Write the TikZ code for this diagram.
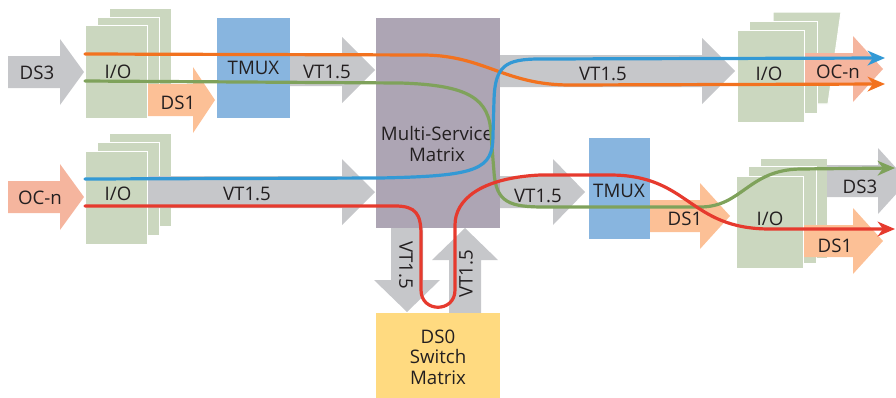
\documentclass[tikz,border=0pt]{standalone}
\usepackage{fontspec}
\setmainfont{Open Sans}
\usetikzlibrary{arrows.meta}
\usetikzlibrary{fit}
\usetikzlibrary{positioning}

\definecolor{flowgray}{HTML}{C6C7CA}
\definecolor{dsorange}{HTML}{FCC096}
\definecolor{ocpink}{HTML}{F5B59E}
\definecolor{iogreen}{HTML}{CBD7BF}
\definecolor{tmuxblue}{HTML}{88B5DF}
\definecolor{msmgray}{HTML}{ADA5B4}
\definecolor{dsoyellow}{HTML}{FFDA80}
\definecolor{inkgray}{HTML}{231F20}
\definecolor{lineorange}{HTML}{F2721F}
\definecolor{linegreen}{HTML}{7FA25B}
\definecolor{lineblue}{HTML}{3399D5}
\definecolor{linered}{HTML}{E63A2E}

\tikzset{
    % Used for creating an exact fit to an existing list of objects
    tight fit/.style={fit={#1}, inner sep=0, line width=0},
%
    % Stacked interface cards, separated by a thin white edge
    io card/.style={fill=iogreen, draw=white, line width=0.8pt},
%
    % Plain coloured blocks
    tmux block/.style={fill=tmuxblue},
    matrix block/.style={fill=msmgray},
    dso block/.style={fill=dsoyellow},
%
    % All the text in the picture
    tag/.style={font=\fontsize{14}{15.5}\selectfont, text=inkgray,
        inner sep=0pt, align=center},
%
    % Thick signal paths, drawn over everything else
    signal/.style={line width=2.4pt, line cap=round,
        -{Stealth[length=13pt, width=11pt, inset=4pt]}}}

% Fat block arrow: options, start x, centre y, body length, head length
\newcommand{\flowarrow}[5][]{%
    \fill[#1] (#2,#3) ++(0,16) -- ++(#4,0) -- ++(0,17) -- ++(#5,-33)
        -- ++(-#5,-33) -- ++(0,17) -- ++(-#4,0) -- cycle;}

\begin{document}
\begin{tikzpicture}[x=0.75pt, y=-0.75pt]

\clip (0,0) rectangle (896,397);

% cards behind the front ones
\node [io card, tight fit={(109,8) (171,101)}] (io tl back) {};
\node [io card, tight fit={(97,17) (159,110)}] (io tl mid) {};
\node [io card, tight fit={(109,133) (171,226)}] (io bl back) {};
\node [io card, tight fit={(97,142) (159,235)}] (io bl mid) {};
\fill [iogreen, draw=white, line width=0.8pt]
    (773,12) -- (841,12) -- (828,104) -- (773,104) -- cycle;
\node [io card, tight fit={(749,21) (817,113)}] (io tr mid) {};
\node [io card, tight fit={(760,158) (827,258)}] (io br back) {};
\node [io card, tight fit={(748,166) (816,263)}] (io br mid) {};

% block arrows
\flowarrow[fill=flowgray]{8}{72}{52}{24}
\flowarrow[fill=dsorange]{140}{100}{53}{22}
\flowarrow[fill=flowgray]{290}{70}{52}{33}
\flowarrow[fill=flowgray]{500}{71}{202}{33}
\flowarrow[fill=ocpink]{798}{69}{55}{30}
\flowarrow[fill=ocpink]{8}{197}{52}{24}
\flowarrow[fill=flowgray]{140}{192}{202}{33}
\flowarrow[fill=flowgray]{500}{192}{53}{32}
\flowarrow[fill=dsorange]{650}{216}{50}{30}
\flowarrow[fill=flowgray]{827}{181}{51}{30}
\flowarrow[fill=dsorange]{798}{241}{55}{30}
\begin{scope}[shift={(407,228)}, rotate=-90]
    \flowarrow[fill=flowgray]{0}{0}{52}{32}
\end{scope}
\begin{scope}[shift={(465,313)}, rotate=90]
    \flowarrow[fill=flowgray]{0}{0}{53}{32}
\end{scope}

% front cards
\node [io card, tight fit={(85,25) (147,118)}] (io tl) {};
\node [io card, tight fit={(85,151) (147,244)}] (io bl) {};
\node [io card, tight fit={(737,30) (804,122)}] (io tr) {};
\node [io card, tight fit={(736,176) (803,268)}] (io br) {};
\node [tag] (io tl text) at (118,72) {I/O};
\node [tag] (io bl text) at (118,194) {I/O};
\node [tag] (io tr text) at (769,74) {I/O};
\node [tag] (io br text) at (770,219) {I/O};

% blocks
\node [tmux block, tight fit={(217,18) (290,118)}] (tmux a) {};
\node [tmux block, tight fit={(589,138) (650,239)}] (tmux b) {};
\node [tag] (tmux a text) at (tmux a.center) {TMUX};
\node [tag] (tmux b text) at (619,191) {TMUX};
\node [matrix block, tight fit={(376,18) (500,228)}] (msm) {};
\node [tag] (msm text) at (437,144) {Multi-Service\\Matrix};
\node [dso block, tight fit={(376,313) (500,400)}] (dso) {};
\node [tag] (dso text) at (438,357) {DS0\\Switch\\Matrix};

% arrow labels
\node [tag] (ds3 in) at (37,73) {DS3};
\node [tag] (ds1 tl) at (178,103) {DS1};
\node [tag] (vt top) at (327,72) {VT1.5};
\node [tag] (vt tr) at (603,74) {VT1.5};
\node [tag] (ocn tr) at (838,72) {OC-n};
\node [tag] (ocn in) at (40,198) {OC-n};
\node [tag] (vt bl) at (247,194) {VT1.5};
\node [tag] (vt mr) at (538,196) {VT1.5};
\node [tag] (ds1 mr) at (685,219) {DS1};
\node [tag] (ds3 out) at (860,187) {DS3};
\node [tag] (ds1 out) at (835,246) {DS1};
\node [tag, rotate=-90] (vt down) at (406,265) {VT1.5};
\node [tag, rotate=90] (vt up) at (466,274) {VT1.5};

% signal paths
\coordinate (orange in) at (85,54);
\coordinate (orange out) at (885,84);
\coordinate (blue in) at (85,179);
\coordinate (blue out) at (885,58);
\coordinate (green in) at (85,81);
\coordinate (green out) at (895,168);
\coordinate (red in) at (85,206);
\coordinate (red out) at (895,229);

\draw [signal, draw=lineorange] (orange in) -- (425,55)
    .. controls (485,56) and (505,85) .. (570,85) -- (orange out);
\draw [signal, draw=linegreen] (green in) -- (400,83)
    .. controls (468,85) and (490,98) .. (491,135) -- (494,172)
    .. controls (496,203) and (510,207) .. (545,207) -- (700,207)
    .. controls (742,207) and (748,170) .. (800,169) -- (green out);
\draw [signal, draw=lineblue] (blue in) -- (380,178)
    .. controls (478,176) and (493,170) .. (493,135) -- (494,100)
    .. controls (495,66) and (505,59) .. (540,59) -- (blue out);
\draw [signal, draw=linered] (red in) -- (395,206)
    .. controls (416,206) and (421,214) .. (421,235) -- (421,290)
    .. controls (421,313) and (455,313) .. (455,290) -- (455,225)
    .. controls (455,200) and (480,178) .. (540,175) -- (610,175)
    .. controls (690,175) and (688,229) .. (770,229) -- (red out);

\end{tikzpicture}
\end{document}
